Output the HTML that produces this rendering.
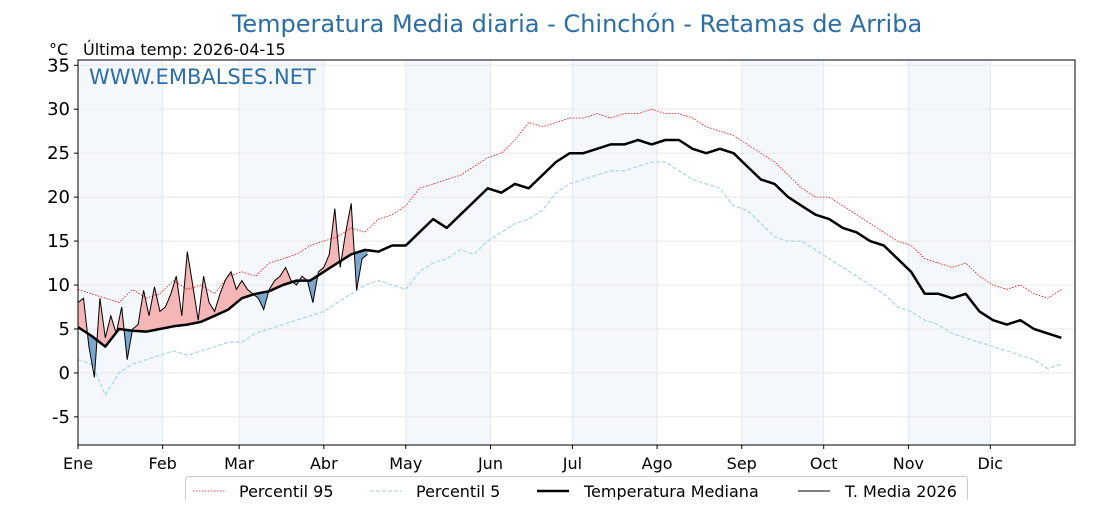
<!DOCTYPE html>
<html><head><meta charset="utf-8"><style>
body{margin:0;background:#fff;width:1120px;height:500px;overflow:hidden}
svg text{font-family:"DejaVu Sans","Liberation Sans",sans-serif}
</style></head><body>
<svg id="chart" width="1120" height="500">
<defs>
<clipPath id="plotclip"><rect x="78" y="60" width="997" height="385"/></clipPath>
<clipPath id="aboveclip"><polygon id="abovePoly" points=""/></clipPath>
<clipPath id="belowclip"><polygon id="belowPoly" points=""/></clipPath>
</defs>
<g id="bands"></g>
<g id="grid"></g>
<g id="series" clip-path="url(#plotclip)"></g>
<rect x="78" y="60" width="997" height="385" fill="none" stroke="#000" stroke-width="1"/>
<g id="axes"></g>
<text x="577" y="32" text-anchor="middle" font-size="24" fill="#2c6ea4">Temperatura Media diaria - Chinchón - Retamas de Arriba</text>
<text x="49" y="55" font-size="16" fill="#000">°C</text>
<text x="83" y="55" font-size="16" fill="#000">Última temp: 2026-04-15</text>
<text x="89" y="84" font-size="21" fill="#2c6ea4">WWW.EMBALSES.NET</text>
<g>
<rect x="185.5" y="476.5" width="782" height="30" rx="3" fill="#fff" stroke="#ccc"/>
<line x1="193" y1="491" x2="225" y2="491" stroke="red" stroke-width="0.8" stroke-dasharray="1.5,1.5"/>
<text x="239" y="497" font-size="16">Percentil 95</text>
<line x1="370" y1="491" x2="402" y2="491" stroke="#add8e6" stroke-width="1.3" stroke-dasharray="4,2"/>
<text x="416" y="497" font-size="16">Percentil 5</text>
<line x1="537" y1="491" x2="569" y2="491" stroke="#000" stroke-width="2.5"/>
<text x="584" y="497" font-size="16">Temperatura Mediana</text>
<line x1="798" y1="491" x2="830" y2="491" stroke="#000" stroke-width="1"/>
<text x="845" y="497" font-size="16">T. Media 2026</text>
</g>
</svg>
<script>
const months=["Ene","Feb","Mar","Abr","May","Jun","Jul","Ago","Sep","Oct","Nov","Dic"];
const monthStart=[0,31,59,90,120,151,181,212,243,273,304,334];
const yTicks=[-5,0,5,10,15,20,25,30,35];
const stepDays=5;
const median=[5.2,4.2,3.0,5.0,4.8,4.7,5.0,5.3,5.5,5.8,6.5,7.2,8.5,9.0,9.3,10.0,10.5,10.5,11.5,12.5,13.5,14.0,13.8,14.5,14.5,16.0,17.5,16.5,18.0,19.5,21.0,20.5,21.5,21.0,22.5,24.0,25.0,25.0,25.5,26.0,26.0,26.5,26.0,26.5,26.5,25.5,25.0,25.5,25.0,23.5,22.0,21.5,20.0,19.0,18.0,17.5,16.5,16.0,15.0,14.5,13.0,11.5,9.0,9.0,8.5,9.0,7.0,6.0,5.5,6.0,5.0,4.5,4.0];
const p95=[9.5,9.0,8.5,8.0,9.5,8.5,9.0,10.5,9.5,10.0,9.0,11.0,11.5,11.0,12.5,13.0,13.5,14.5,15.0,15.5,16.5,16.0,17.5,18.0,19.0,21.0,21.5,22.0,22.5,23.5,24.5,25.0,26.5,28.5,28.0,28.5,29.0,29.0,29.5,29.0,29.5,29.5,30.0,29.5,29.5,29.0,28.0,27.5,27.0,26.0,25.0,24.0,22.5,21.0,20.0,20.0,19.0,18.0,17.0,16.0,15.0,14.5,13.0,12.5,12.0,12.5,11.0,10.0,9.5,10.0,9.0,8.5,9.5];
const p5=[1.5,1.0,-2.5,0.0,1.0,1.5,2.0,2.5,2.0,2.5,3.0,3.5,3.5,4.5,5.0,5.5,6.0,6.5,7.0,8.0,9.0,10.0,10.5,10.0,9.5,11.5,12.5,13.0,14.0,13.5,15.0,16.0,17.0,17.5,18.5,20.5,21.5,22.0,22.5,23.0,23.0,23.5,24.0,24.0,23.0,22.0,21.5,21.0,19.0,18.5,17.0,15.5,15.0,15.0,14.0,13.0,12.0,11.0,10.0,9.0,7.5,7.0,6.0,5.5,4.5,4.0,3.5,3.0,2.5,2.0,1.5,0.5,1.0];
const step2026=2;
const t2026=[8.0,8.5,3.0,-0.5,8.5,4.0,6.5,4.5,7.5,1.5,5.0,5.5,9.4,6.5,9.8,7.0,7.5,9.0,11.0,6.5,13.8,10.0,6.0,11.0,8.0,7.0,9.0,10.6,11.5,9.5,10.5,9.5,9.0,8.5,7.2,9.5,10.5,11.0,12.0,10.5,10.0,11.0,10.5,8.0,11.5,12.0,13.5,18.7,12.0,16.0,19.3,9.4,13.0,13.5];

const NS="http://www.w3.org/2000/svg";
const X0=78,X1=1075,Y0=60,Y1=445,YMIN=-8.2,YMAX=35.6;
const xs=d=>X0+d/365*(X1-X0);
const ys=v=>Y1-(v-YMIN)/(YMAX-YMIN)*(Y1-Y0);
function mk(tag,attrs,parent){const e=document.createElementNS(NS,tag);for(const k in attrs)e.setAttribute(k,attrs[k]);parent.appendChild(e);return e;}
const bands=document.getElementById('bands'),grid=document.getElementById('grid'),series=document.getElementById('series'),axes=document.getElementById('axes');
monthStart.forEach((m,i)=>{
  const end=i<11?monthStart[i+1]:365;
  if(i%2===0){const r=mk('rect',{x:xs(m),y:Y0,width:xs(end)-xs(m),height:Y1-Y0,fill:'#f4f8fc'},bands);
    
    }
  mk('line',{x1:xs(m),x2:xs(m),y1:Y0,y2:Y1,stroke:'#e3e8ee','stroke-width':1},grid);
  mk('line',{x1:xs(m),x2:xs(m),y1:Y1,y2:Y1+4,stroke:'#000'},axes);
  const t=mk('text',{x:xs(m),y:Y1+24,'font-size':16,'text-anchor':'middle'},axes);t.textContent=months[i];
  
  
});
yTicks.forEach(v=>{
  mk('line',{x1:X0,x2:X1,y1:ys(v),y2:ys(v),stroke:'#e8e8e8','stroke-width':1},grid);
  mk('line',{x1:X0-4,x2:X0,y1:ys(v),y2:ys(v),stroke:'#000'},axes);
  const t=mk('text',{x:X0-8,y:ys(v)+6,'font-size':18,'text-anchor':'end'},axes);t.textContent=v;
  
  
});
const pts=(arr,st)=>arr.map((v,i)=>[xs(Math.min(i*st,364)),ys(v)]);
const str=p=>p.map(q=>q[0].toFixed(1)+','+q[1].toFixed(1)).join(' ');
const mP=pts(median,stepDays);
document.getElementById('abovePoly').setAttribute('points',str([[X0,Y0-50]].concat(mP,[[X1,Y0-50]])));
document.getElementById('belowPoly').setAttribute('points',str([[X0,Y1+50]].concat(mP,[[X1,Y1+50]])));
function medAt(d){const i=Math.min(Math.floor(d/stepDays),median.length-2);const f=(d-i*stepDays)/stepDays;return median[i]*(1-f)+median[i+1]*f;}
const tP=pts(t2026,step2026);
const lastDay=(t2026.length-1)*step2026;
const back=[];for(let d=lastDay;d>=0;d-=1)back.push([xs(d),ys(medAt(d))]);
const fillPts=str(tP.concat(back));
const fa=mk('polygon',{points:fillPts,fill:'#f4b6b6','clip-path':'url(#aboveclip)'},series);


const fb=mk('polygon',{points:fillPts,fill:'#7ba7cc','clip-path':'url(#belowclip)'},series);


const l95=mk('polyline',{points:str(pts(p95,stepDays)),fill:'none',stroke:'red','stroke-width':0.8,'stroke-dasharray':'1.5,1.5'},series);


const l5=mk('polyline',{points:str(pts(p5,stepDays)),fill:'none',stroke:'#add8e6','stroke-width':1.3,'stroke-dasharray':'4,2'},series);


const lm=mk('polyline',{points:str(mP),fill:'none',stroke:'#000','stroke-width':2.5,'stroke-linejoin':'round'},series);


const lt=mk('polyline',{points:str(tP),fill:'none',stroke:'#000','stroke-width':1},series);


</script>
</body></html>
